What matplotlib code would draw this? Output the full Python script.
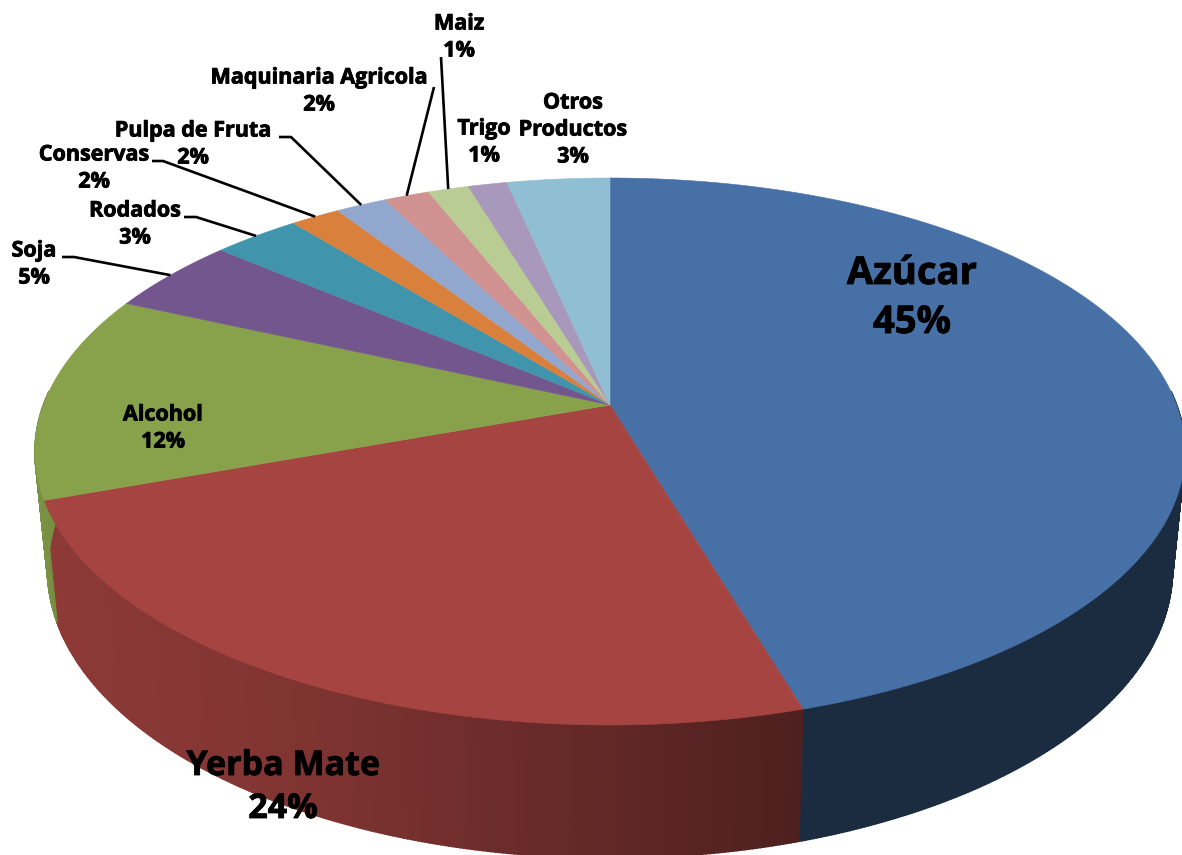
import numpy as np
import matplotlib
matplotlib.use("Agg")
import matplotlib.pyplot as plt
import matplotlib.patheffects as pe

# ---- data (clockwise from 12 o'clock) ----
categories = ["Azúcar", "Yerba Mate", "Alcohol", "Soja", "Rodados", "Conservas",
              "Pulpa de Fruta", "Maquinaria Agricola", "Maiz", "Trigo", "Otros\nProductos"]
values = [45.4, 24.1, 12.2, 4.5, 2.9, 1.65, 1.7, 1.5, 1.35, 1.3, 3.4]
percent_labels = ["45%", "24%", "12%", "5%", "3%", "2%", "2%", "2%", "1%", "1%", "3%"]

# ---- styles ----
colors = ["#4670a6", "#a64441", "#88a24c", "#73568d", "#4095ad", "#d9813c",
          "#92a7ce", "#d09290", "#b8cc93", "#a898bc", "#90bfd3"]
# label centre (x, y of first line), line spacing, font size
label_layout = [(912, 274, 49, 27.5), (283, 766, 43, 24.5), (163, 415, 27, 15.5), (34, 251, 27, 15.5),
                (135, 211, 27, 15.5), (94, 155, 27, 15.5), (193, 131, 27, 15.5), (319, 78, 27, 15.5),
                (459, 24, 27, 15.5), (484, 129, 27, 15.5), (573, 103, 27, 15.5)]
leader_elbows = {3: [(62, 257), (74, 257)], 4: [(184, 217), (196, 217)],
                 5: [(152, 161), (163, 161)], 6: [(279, 137), (291, 137)],
                 7: [(434, 87)], 8: [(441, 57)]}

# ---- perspective projection of the pie disc ----
CX, CY = 610.0, 405.0
A, C, D = 265.6, 0.17, 566.6


def rim(theta, bottom=False):
    u, v = np.sin(theta), np.cos(theta)
    f = 1 + C * v
    x, y = D * u / f, -A * v / f
    if bottom:
        return CX + 0.978 * x, CY + 116 + 1.053 * y
    return CX + x, CY + y


def wall_shade(i, x):
    if i == 0:
        return 0.39
    return np.interp(x, [33, 56, 300, 420, 800], [0.93, 0.85, 0.77, 0.70, 0.47])


fig = plt.figure(figsize=(11.82, 8.55), dpi=100)
ax = fig.add_axes([0, 0, 1, 1])
ax.set_xlim(0, 1182)
ax.set_ylim(855, 0)
ax.axis("off")

edges = np.concatenate([[0], np.cumsum(values)]) / np.sum(values) * 2 * np.pi
rgb = [np.array(matplotlib.colors.to_rgb(c)) for c in colors]

# side wall
for i in range(len(values)):
    n = max(2, int((edges[i + 1] - edges[i]) / 0.006))
    ts = np.linspace(edges[i], edges[i + 1], n + 1)
    for t0, t1 in zip(ts[:-1], ts[1:]):
        if np.cos(t0) > 0.05 and np.cos(t1) > 0.05:
            continue
        x0, y0 = rim(t0)
        x1, y1 = rim(t1)
        x2, y2 = rim(t1, True)
        x3, y3 = rim(t0, True)
        col = np.clip(rgb[i] * wall_shade(i, (x0 + x3) / 2), 0, 1)
        ax.fill([x0, x1, x2, x3], [y0, y1, y2, y3], color=col, lw=1.2, zorder=2)

# top face
for i in range(len(values)):
    ts = np.linspace(edges[i], edges[i + 1], 200)
    xs, ys = rim(ts)
    ax.fill(np.r_[CX, xs], np.r_[CY, ys], color=colors[i], lw=0.4, zorder=3)

# leader lines
for i, elbow in leader_elbows.items():
    ex, ey = rim((edges[i] + edges[i + 1]) / 2)
    px = [p[0] for p in elbow] + [ex]
    py = [p[1] for p in elbow] + [ey]
    ax.plot(px, py, color="black", lw=1.9, zorder=4, solid_capstyle="butt")

# labels
stroke = [pe.withStroke(linewidth=0.6, foreground="black")]
for name, pct, (x, y, dy, size) in zip(categories, percent_labels, label_layout):
    lines = name.split("\n") + [pct]
    for k, line in enumerate(lines):
        ax.text(x, y + k * dy, line, ha="center", va="center", fontsize=size,
                family="Open Sans", weight="bold", color="black", zorder=5, path_effects=stroke)

fig.savefig("out.png", dpi=100)
